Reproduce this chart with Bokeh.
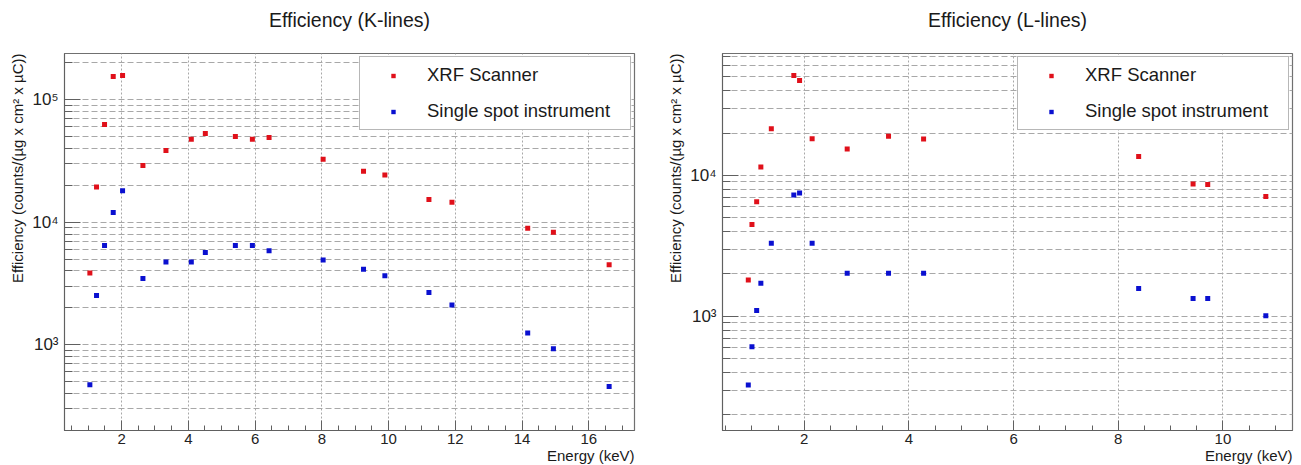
import math
from bokeh.plotting import figure
from bokeh.models import (Legend, LegendItem, FixedTicker, SingleIntervalTicker, Title,
                          CustomJSTickFormatter, Range1d, ColumnDataSource)
from bokeh.layouts import row
from bokeh.embed import file_html
from bokeh.resources import INLINE

# ---------------- data ----------------
k_energy = [1.05, 1.25, 1.49, 1.75, 2.03, 2.64, 3.33, 4.09, 4.51, 5.41, 5.92, 6.42,
            8.04, 9.25, 9.89, 11.21, 11.90, 14.17, 14.94, 16.61]
k_xrf = [3850, 19300, 62500, 154000, 157000, 29000, 38400, 47400, 52800, 49900, 47400, 49000,
         32600, 26000, 24200, 15300, 14500, 8900, 8270, 4490]
k_single = [473, 2520, 6440, 12000, 18000, 3470, 4740, 4740, 5650, 6440, 6440, 5830,
            4920, 4130, 3650, 2670, 2110, 1250, 927, 456]

l_energy = [0.93, 1.00, 1.09, 1.17, 1.37, 1.80, 1.91, 2.15, 2.82, 3.61, 4.28,
            8.39, 9.43, 9.71, 10.82]
l_xrf = [1810, 4490, 6500, 11500, 21400, 51200, 47200, 18200, 15400, 19000, 18100,
         13600, 8680, 8630, 7100]
l_single = [326, 610, 1100, 1720, 3300, 7250, 7490, 3300, 2020, 2020, 2020,
            1580, 1340, 1340, 1010]

series_names = ["XRF Scanner", "Single spot instrument"]
titles = ["Efficiency (K-lines)", "Efficiency (L-lines)"]
y_label = "Efficiency (counts/(µg x cm² x µC))"
x_label = "Energy (keV)"
y_major_ticks = [1e2, 1e3, 1e4, 1e5]

RED = "#e0101a"
BLUE = "#0a10d0"
FONT = "Liberation Sans"
GRID = "#a8a8a8"
TXT = "#1a1a1a"

sup_js = """
const s = {'0':'\u2070','1':'\u00b9','2':'\u00b2','3':'\u00b3','4':'\u2074','5':'\u2075',
           '6':'\u2076','7':'\u2077','8':'\u2078','9':'\u2079','-':'\u207b'};
const e = Math.round(Math.log10(tick));
return '10' + String(e).split('').map(c => s[c]).join('');
"""


def make_panel(energy, xrf, single, title, xr, yr, width, borders):
    p = figure(width=width, height=465, y_axis_type="log", title=None,
               x_range=Range1d(*xr), y_range=Range1d(*yr),
               output_backend="svg", toolbar_location=None,
               min_border_left=borders[0], min_border_right=borders[1],
               min_border_top=53, min_border_bottom=35)
    p.background_fill_color = "white"
    p.border_fill_color = "white"
    p.outline_line_color = "#707070"
    p.outline_line_width = 1.2

    # title (top, centred on frame), pushed away from the frame by a blank spacer
    p.add_layout(Title(text=" ", text_font_size="19px", standoff=0), "above")
    p.add_layout(Title(text=title, align="center", text_font=FONT, text_font_size="19.5px",
                       text_font_style="normal", text_color=TXT, standoff=0), "above")

    minor = [m * d for d in y_major_ticks for m in range(2, 10)]
    p.yaxis.ticker = FixedTicker(ticks=y_major_ticks, minor_ticks=minor)
    p.yaxis.formatter = CustomJSTickFormatter(code=sup_js)
    p.xaxis.ticker = SingleIntervalTicker(interval=2, num_minor_ticks=4)

    for ax in (p.xaxis[0], p.yaxis[0]):
        ax.axis_line_color = "#606060"
        ax.major_tick_line_color = "#606060"
        ax.minor_tick_line_color = "#606060"
        ax.major_tick_out = 0
        ax.minor_tick_out = 0
        ax.major_label_text_font = FONT
        ax.major_label_text_color = "#222222"
    p.xaxis.major_label_text_font_size = "15px"
    p.yaxis.major_label_text_font_size = "17px"
    p.xaxis.major_tick_in = 10
    p.xaxis.minor_tick_in = 5
    p.yaxis.major_tick_in = 16
    p.yaxis.minor_tick_in = 8
    p.xaxis.major_label_standoff = 3
    p.yaxis.major_label_standoff = 6

    p.xgrid.grid_line_color = GRID
    p.xgrid.grid_line_dash = "2 2"
    p.ygrid.grid_line_color = GRID
    p.ygrid.grid_line_dash = "6 3"
    p.ygrid.minor_grid_line_color = GRID
    p.ygrid.minor_grid_line_dash = "6 3"

    src = ColumnDataSource(dict(x=energy, a=xrf, b=single))
    r1 = p.scatter("x", "a", source=src, marker="square", size=5, color=RED, line_color=None)
    r2 = p.scatter("x", "b", source=src, marker="square", size=5, color=BLUE, line_color=None)

    leg = Legend(items=[LegendItem(label=series_names[0], renderers=[r1]),
                        LegendItem(label=series_names[1], renderers=[r2])],
                 location="top_right", margin=3, padding=6, spacing=12,
                 glyph_width=54, glyph_height=11, label_height=24, label_width=197,
                 label_standoff=7, label_text_font=FONT, label_text_font_size="18.5px",
                 label_text_color=TXT, border_line_color="#707070",
                 border_line_width=1.2, background_fill_alpha=1.0)
    p.add_layout(leg)

    # x axis title (below, right aligned)
    p.add_layout(Title(text=x_label, align="right", vertical_align="top", text_font=FONT,
                       text_font_size="15px", text_font_style="normal", text_color=TXT,
                       standoff=0), "below")
    # y axis title (left, aligned to the top end)
    p.add_layout(Title(text=y_label, align="right", text_font=FONT, text_font_size="15px",
                       text_font_style="normal", text_color=TXT, standoff=8), "left")
    return p


p1 = make_panel(k_energy, k_xrf, k_single, titles[0], (0.29, 17.37), (200, 2.37e5),
                660, (64, 26))
p2 = make_panel(l_energy, l_xrf, l_single, titles[1], (0.437, 11.33), (155, 73300),
                641, (61, 9))

layout = row(p1, p2)
open("out.html", "w").write(file_html(layout, INLINE))
